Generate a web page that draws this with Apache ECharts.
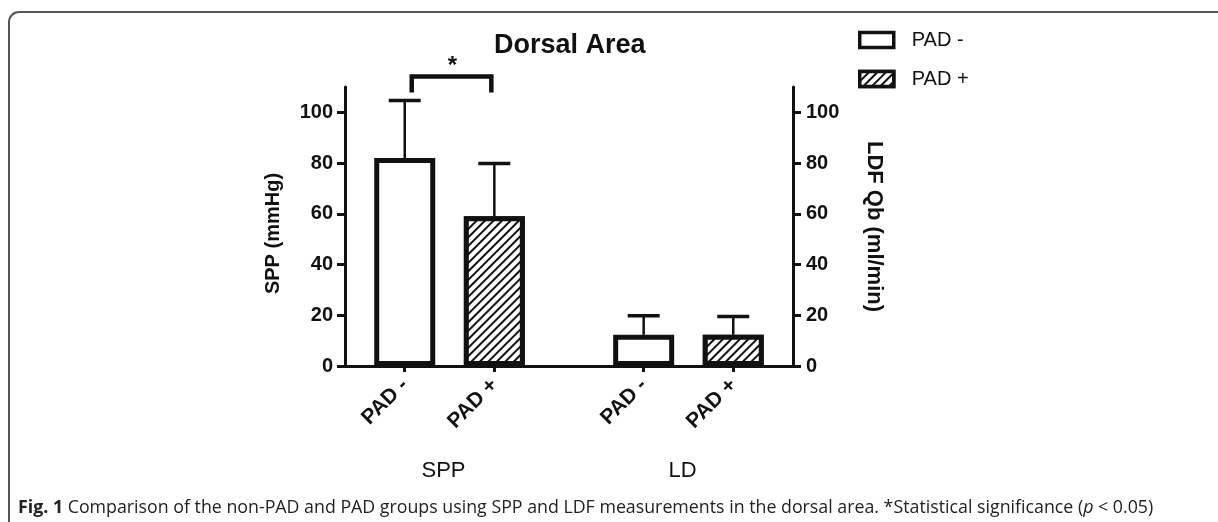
<!DOCTYPE html>
<html>
<head>
<meta charset="utf-8">
<script src="https://cdn.jsdelivr.net/npm/echarts@6/dist/echarts.min.js"></script>
<style>
html,body{margin:0;padding:0;background:#fff;}
#chart{width:1218px;height:522px;}
</style>
</head>
<body>
<div id="chart"></div>
<script>
// ---- data ----
const groups = ['SPP', 'LD'];
const members = ['PAD -', 'PAD +'];
const padNegMean = [82, 12.3];
const padNegSD = [22.7, 7.5];
const padPosMean = [59, 12.3];
const padPosSD = [20.8, 7.2];
const yTicks = [0, 20, 40, 60, 80, 100];
const significance = [{ group: 0, label: '*' }];
const titleText = 'Dorsal Area';
const leftAxisName = 'SPP (mmHg)';
const rightAxisName = 'LDF Qb (ml/min)';

// ---- layout helpers ----
function pos(g, m) { return 1 + g * 4 + m * 1.5; }
const FONT = 'Liberation Sans, Arial, sans-serif';
const INK = '#111';
const means = [padNegMean, padPosMean];
const sds = [padNegSD, padPosSD];

const tickPositions = [];
const tickLabelMap = {};
groups.forEach((g, gi) => members.forEach((m, mi) => {
  const p = pos(gi, mi);
  tickPositions.push(p);
  tickLabelMap[p] = m;
}));
const groupCenters = groups.map((g, gi) => (pos(gi, 0) + pos(gi, members.length - 1)) / 2);
const groupLabelMap = {};
groupCenters.forEach((c, gi) => groupLabelMap[c] = groups[gi]);

const hatch = {
  symbol: 'rect', symbolSize: 1,
  dashArrayX: [1, 0], dashArrayY: [2, 3.8],
  rotation: -Math.PI / 4,
  color: INK, backgroundColor: '#fff'
};

const barSeries = members.map((m, mi) => ({
  name: m,
  type: 'bar',
  xAxisIndex: 0, yAxisIndex: 0,
  barWidth: 61,
  barGap: '-100%',
  data: groups.map((g, gi) => [pos(gi, mi), means[mi][gi]]),
  itemStyle: Object.assign({ color: '#fff', borderColor: INK, borderWidth: 5 },
    mi === 1 ? { decal: hatch } : {}),
  emphasis: { disabled: true },
  z: 3
}));

const errData = [];
members.forEach((m, mi) => groups.forEach((g, gi) => {
  errData.push([pos(gi, mi), means[mi][gi], sds[mi][gi]]);
}));

const errSeries = {
  type: 'custom',
  xAxisIndex: 0, yAxisIndex: 0,
  data: errData,
  encode: { x: 0, y: 1 },
  clip: false,
  z: 2,
  silent: true,
  renderItem: function (params, api) {
    const x = api.value(0), mval = api.value(1), s = api.value(2);
    const p0 = api.coord([x, mval]);
    const p1 = api.coord([x, mval + s]);
    return {
      type: 'group',
      children: [
        { type: 'line', shape: { x1: p0[0], y1: p0[1], x2: p1[0], y2: p1[1] }, style: { stroke: INK, lineWidth: 2.5 } },
        { type: 'line', shape: { x1: p1[0] - 16, y1: p1[1], x2: p1[0] + 16, y2: p1[1] }, style: { stroke: INK, lineWidth: 3.5 } }
      ]
    };
  }
};

const sigData = significance.map(s => {
  const gi = s.group;
  let top = 0;
  members.forEach((m, mi) => { top = Math.max(top, means[mi][gi] + sds[mi][gi]); });
  return [pos(gi, 0), pos(gi, members.length - 1), top];
});

const sigSeries = {
  type: 'custom',
  xAxisIndex: 0, yAxisIndex: 0,
  data: sigData,
  encode: { x: [0, 1], y: 2 },
  clip: false,
  silent: true,
  z: 4,
  renderItem: function (params, api) {
    const a = api.coord([api.value(0), api.value(2)]);
    const b = api.coord([api.value(1), api.value(2)]);
    const xl = a[0] + 7, xr = b[0] - 3;
    const yTop = a[1] - 24, yLeg = a[1] - 8;
    return {
      type: 'group',
      children: [
        { type: 'polyline', shape: { points: [[xl, yLeg], [xl, yTop], [xr, yTop], [xr, yLeg]] },
          style: { stroke: INK, lineWidth: 4.5, fill: null, lineJoin: 'miter' } },
        { type: 'text', x: (xl + xr) / 2 + 1, y: yTop + 2,
          style: { text: significance[params.dataIndex].label, font: 'bold 24px ' + FONT, fill: INK,
                   align: 'center', verticalAlign: 'bottom' } }
      ]
    };
  }
};

const yAxisCommon = {
  type: 'value', min: 0, max: 110,
  axisLine: { show: true, onZero: false, lineStyle: { color: INK, width: 3 } },
  axisTick: { show: true, length: 8, lineStyle: { color: INK, width: 3 }, customValues: yTicks },
  axisLabel: { color: INK, fontSize: 20, fontWeight: 'bold', fontFamily: FONT, margin: 12, customValues: yTicks },
  splitLine: { show: false },
  nameLocation: 'middle',
  nameTextStyle: { color: INK, fontSize: 20, fontWeight: 'bold', fontFamily: FONT }
};

const option = {
  animation: false,
  backgroundColor: '#fff',
  title: {
    text: titleText, left: 489, top: 27,
    textStyle: { fontFamily: FONT, fontWeight: 'bold', fontSize: 27, color: INK }
  },
  legend: {
    data: members,
    orient: 'vertical',
    left: 853, top: 25,
    itemWidth: 34, itemHeight: 15, itemGap: 19,
    icon: 'rect',
    itemStyle: { borderWidth: 3.5, borderColor: INK },
    textStyle: { fontFamily: FONT, fontSize: 20, color: INK, padding: [0, 0, 0, 13] },
    selectedMode: false
  },
  grid: { left: 345, right: 425, top: 87, bottom: 156, outerBoundsMode: 'none' },
  xAxis: [
    {
      type: 'value', min: 0, max: 7.5,
      axisLine: { show: true, onZero: false, lineStyle: { color: INK, width: 3 } },
      axisTick: { show: true, length: 6, lineStyle: { color: INK, width: 3 }, customValues: tickPositions },
      axisLabel: {
        customValues: tickPositions, rotate: 45, margin: 16,
        color: INK, fontSize: 21, fontWeight: 'bold', fontFamily: FONT,
        formatter: v => tickLabelMap[v] || ''
      },
      splitLine: { show: false }
    },
    {
      type: 'value', min: 0, max: 7.5, position: 'bottom',
      axisLine: { show: false, onZero: false }, axisTick: { show: false },
      axisLabel: {
        customValues: groupCenters, margin: 94,
        color: INK, fontSize: 22, fontFamily: FONT, padding: [0, 12, 0, 0],
        formatter: v => groupLabelMap[v] || ''
      },
      splitLine: { show: false }
    }
  ],
  yAxis: [
    Object.assign({}, yAxisCommon, { position: 'left', name: leftAxisName, nameRotate: 90, nameGap: 62,
      nameTextStyle: Object.assign({}, yAxisCommon.nameTextStyle, { padding: [0, 14, 0, 0] }) }),
    Object.assign({}, yAxisCommon, { position: 'right', name: rightAxisName, nameRotate: -90, nameGap: 70,
      nameTextStyle: Object.assign({}, yAxisCommon.nameTextStyle, { fontSize: 22 }),
      axisLabel: Object.assign({}, yAxisCommon.axisLabel, { margin: 13 }) })
  ],
  series: [errSeries].concat(barSeries, [sigSeries]),
  graphic: [
    {
      type: 'rect', silent: true, z: 0,
      shape: { x: 9, y: 12, width: 1400, height: 700, r: [10, 0, 0, 0] },
      style: { fill: null, stroke: '#555', lineWidth: 2 }
    },
    {
      type: 'text', left: 18, top: 499, silent: true,
      style: {
        text: '{b|Fig. 1} Comparison of the non-PAD and PAD groups using SPP and LDF measurements in the dorsal area. *Statistical significance ({i|p} < 0.05)',
        font: '17.8px Open Sans, sans-serif', fill: '#222',
        rich: {
          b: { font: 'bold 17.8px Open Sans, sans-serif', fill: '#222' },
          i: { font: 'italic 17.8px Open Sans, sans-serif', fill: '#222' }
        }
      }
    }
  ]
};

const chart = echarts.init(document.getElementById('chart'), null, { renderer: 'canvas' });
chart.setOption(option);
</script>
</body>
</html>
